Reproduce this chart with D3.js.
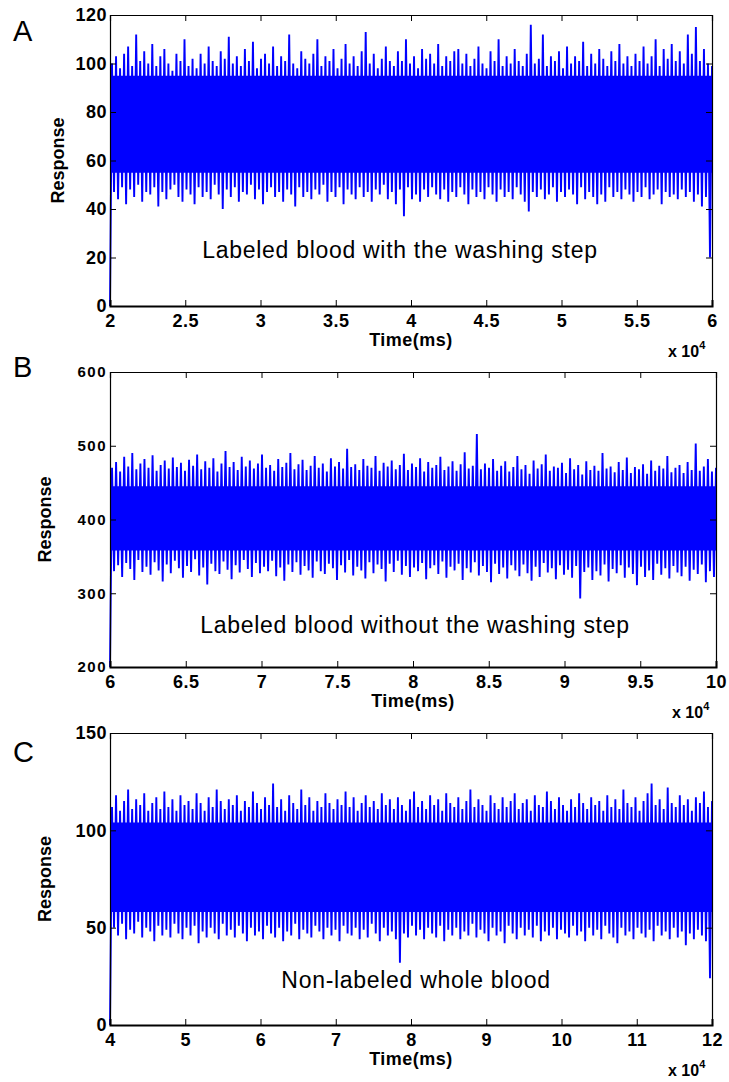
<!DOCTYPE html>
<html>
<head>
<meta charset="utf-8">
<style>
  body { margin: 0; background: #fff; }
  svg { display: block; font-family: Arial, "Liberation Sans", sans-serif; }
</style>
</head>
<body>
<svg width="729" height="1082"></svg>
<script src="https://d3js.org/d3.v7.min.js"></script>
<script>
// local peaks (hi) and dips (lo) of each trace, ~150 of each
var hiA = [100,103,98,104,107,99,112,101,105,100, 108,99,103,106,100,97,104,101,110,99,
  102,98,104,100,107,101,99,105,102,111, 100,103,99,106,101,109,98,102,104,100,
  107,99,103,101,112,100,98,105,102,100, 104,110,99,103,101,106,98,102,108,100,
  103,99,105,113,100,104,98,102,107,101, 99,105,101,110,100,103,98,106,102,104,
  100,108,99,103,101,105,106,100,104,99, 102,107,100,98,105,101,110,99,103,100,
  106,101,99,104,116,100,102,112,99,103, 101,105,98,107,100,103,101,109,99,104,
  100,106,102,99,105,101,108,100,103,99, 104,101,107,100,103,110,99,106,102,108,
  101,105,100,112,104,115,101,106,100,99];
var loA = [0,47,44,49,42,48,45,50,43,47, 46,49,41,47,44,48,50,45,43,48,
  46,42,49,45,47,44,50,46,40,48, 45,49,43,47,46,50,44,48,42,47,
  49,45,47,43,48,46,41,49,45,47, 44,48,46,50,43,47,45,49,42,48,
  46,44,49,45,47,43,48,46,50,44, 47,42,48,37,49,44,46,43,48,45,
  49,46,44,48,43,47,45,49,46,42, 48,45,47,44,49,46,43,48,45,47,
  44,49,46,43,39,47,45,48,44,46, 49,43,47,45,48,46,42,49,44,47,
  45,42,46,43,49,45,47,44,48,46, 43,47,45,49,44,46,48,42,47,45,
  46,44,48,45,47,43,46,41,45,20];
var hiB = [470,478,465,485,472,490,468,476,482,470, 487,466,474,480,469,484,471,477,466,481,
  473,488,468,479,470,483,465,476,493,471, 478,467,485,472,480,469,476,488,470,474,
  466,482,471,477,490,468,475,481,467,473, 486,470,476,465,483,472,478,469,496,471,
  475,467,482,473,470,486,466,477,472,480, 468,474,489,467,476,471,483,465,478,470,
  474,485,467,472,479,466,475,491,469,473, 516,468,476,470,482,466,473,479,465,471,
  486,468,474,462,480,469,475,488,466,472, 470,477,463,483,468,474,461,479,467,473,
  466,490,469,472,464,478,467,484,463,471, 468,475,462,480,466,473,469,486,464,470,
  474,463,478,467,503,466,472,482,465,470];
var loB = [200,330,338,322,341,333,318,345,329,336, 325,342,331,316,339,327,344,334,321,337,
  329,346,324,335,312,340,330,326,343,332, 319,338,328,345,333,322,341,327,336,330,
  344,323,335,317,339,329,342,325,337,331, 321,343,330,326,340,334,318,338,328,345,
  324,336,331,320,342,327,339,333,316,340, 329,344,325,337,322,335,330,341,319,334,
  338,326,343,321,336,331,340,318,334,328, 342,324,337,329,315,340,326,335,320,338,
  331,323,339,327,317,336,322,341,328,334, 319,338,325,332,321,337,293,329,335,318,
  330,324,339,316,333,327,338,321,335,326, 311,336,322,331,318,340,325,334,320,337,
  328,323,336,317,332,326,339,315,330,322];
var hiC = [112,118,110,115,121,111,116,113,119,110, 114,117,111,120,112,116,110,118,113,115,
  111,119,114,110,117,112,121,115,111,116, 113,118,110,115,112,120,114,111,117,113,
  124,112,116,110,118,114,111,121,113,117, 110,115,112,119,114,111,116,113,120,112,
  117,110,114,118,112,115,111,119,113,116, 111,117,113,110,116,120,112,115,111,118,
  113,116,110,119,114,112,117,111,115,121, 112,116,113,110,118,114,111,117,112,115,
  119,111,114,116,110,118,113,112,120,115, 111,117,113,110,116,112,119,114,111,117,
  113,115,110,118,112,116,111,121,114,112, 117,110,115,119,124,113,116,111,122,114,
  112,118,113,116,110,117,114,120,112,115];
var loC = [0,50,46,52,44,49,47,53,45,50, 48,43,51,46,49,45,52,47,44,50,
  46,51,42,48,45,50,47,44,52,46, 49,45,51,47,43,50,46,48,44,51,
  47,45,50,43,48,46,52,44,49,47, 45,51,48,44,50,46,49,43,51,47,
  46,50,44,49,45,52,47,43,50,46, 48,44,32,47,45,51,46,49,44,50,
  47,45,51,43,49,46,50,44,48,46, 52,45,49,47,43,50,46,48,42,51,
  47,44,50,46,49,45,51,43,48,46, 50,44,49,47,45,51,46,48,43,50,
  46,49,44,51,47,45,42,50,46,48, 44,50,47,45,49,43,51,46,48,44,
  50,45,48,41,47,44,49,46,43,24];

// solid core of each trace [low, high]
var coreA = [55, 95], coreB = [358, 445], coreC = [58, 104];

// axis ranges and ticks
var timeA = [20000, 60000], timeB = [60000, 100000], timeC = [40000, 120000];
var xTicksA = [2, 2.5, 3, 3.5, 4, 4.5, 5, 5.5, 6];
var xTicksB = [6, 6.5, 7, 7.5, 8, 8.5, 9, 9.5, 10];
var xTicksC = [4, 5, 6, 7, 8, 9, 10, 11, 12];
var yTicksA = [0, 20, 40, 60, 80, 100, 120];
var yTicksB = [200, 300, 400, 500, 600];
var yTicksC = [0, 50, 100, 150];

var panels = [
  {letter: 'A', hi: hiA, lo: loA, core: coreA, time: timeA, xt: xTicksA, yt: yTicksA,
   ydom: [0, 120], box: {l: 110, r: 712, t: 15, b: 306}, note: 'Labeled blood with the washing step',
   noteX: 400, noteY: 258, ylabX: 58, letterY: 41, yFont: 18, ySpace: 0.5},
  {letter: 'B', hi: hiB, lo: loB, core: coreB, time: timeB, xt: xTicksB, yt: yTicksB,
   ydom: [200, 600], box: {l: 110, r: 716, t: 372, b: 667}, note: 'Labeled blood without the washing step',
   noteX: 415, noteY: 633, ylabX: 45, letterY: 377, yFont: 15, ySpace: 1.5},
  {letter: 'C', hi: hiC, lo: loC, core: coreC, time: timeC, xt: xTicksC, yt: yTicksC,
   ydom: [0, 150], box: {l: 110, r: 712, t: 733, b: 1025}, note: 'Non-labeled whole blood',
   noteX: 416, noteY: 988, ylabX: 45, letterY: 762, yFont: 18, ySpace: 0.5}
];

var svg = d3.select('svg');

panels.forEach(function (p) {
  var b = p.box;
  var x = d3.scaleLinear().domain(p.time).range([b.l, b.r]);
  var y = d3.scaleLinear().domain(p.ydom).range([b.b, b.t]);
  var n = p.hi.length;
  var step = (p.time[1] - p.time[0]) / (n - 0.5);
  // trace alternates dip, peak, dip, peak ...
  var trace = [];
  p.lo.forEach(function (v, i) {
    trace.push({t: p.time[0] + i * step, v: v});
    trace.push({t: p.time[0] + (i + 0.5) * step, v: p.hi[i]});
  });
  var g = svg.append('g');

  // solid core band
  g.append('path')
    .datum(trace)
    .attr('fill', '#0000ff')
    .attr('d', d3.area()
      .x(function (d) { return x(d.t); })
      .y0(y(p.core[0]))
      .y1(y(p.core[1])));

  // the signal itself
  g.append('path')
    .datum(trace)
    .attr('fill', 'none')
    .attr('stroke', '#0000ff')
    .attr('stroke-width', 1.9)
    .attr('stroke-linejoin', 'miter')
    .attr('d', d3.line()
      .x(function (d) { return x(d.t); })
      .y(function (d) { return y(d.v); }));

  // axes: inside ticks, box on
  var fmt = function (v) { return v / 10000; };
  var xv = p.xt.map(function (v) { return v * 10000; });
  var ax = g.append('g');
  ax.append('g').attr('class', 'xb').attr('transform', 'translate(0,' + b.b + ')')
    .call(d3.axisBottom(x).tickValues(xv).tickFormat(fmt).tickSize(-6).tickPadding(8));
  ax.append('g').attr('transform', 'translate(0,' + b.t + ')')
    .call(d3.axisTop(x).tickValues(xv).tickFormat('').tickSize(-6));
  ax.append('g').attr('class', 'yl').attr('transform', 'translate(' + b.l + ',0)')
    .call(d3.axisLeft(y).tickValues(p.yt).tickSize(-6).tickPadding(3));
  ax.append('g').attr('transform', 'translate(' + b.r + ',0)')
    .call(d3.axisRight(y).tickValues(p.yt).tickFormat('').tickSize(-6));
  ax.selectAll('.domain').attr('stroke', '#000').attr('stroke-width', 1.2);
  ax.select('.xb .domain').attr('stroke-width', 2);
  ax.selectAll('.tick line').attr('stroke', '#000');
  ax.selectAll('.tick text')
    .attr('font-family', 'Arial, "Liberation Sans", sans-serif')
    .attr('font-weight', 'bold').attr('fill', '#000');
  ax.selectAll('.xb .tick text').attr('font-size', 18).attr('letter-spacing', 0.5);
  ax.selectAll('.yl .tick text').attr('font-size', p.yFont).attr('letter-spacing', p.ySpace);

  // labels
  var cy = (b.t + b.b) / 2;
  g.append('text').attr('x', p.ylabX).attr('y', cy)
    .attr('transform', 'rotate(-90,' + p.ylabX + ',' + cy + ')')
    .attr('text-anchor', 'middle').attr('dy', '0.35em')
    .attr('font-size', 18).attr('font-weight', 'bold').text('Response');
  g.append('text').attr('x', (b.l + b.r) / 2).attr('y', b.b + 40)
    .attr('text-anchor', 'middle').attr('letter-spacing', 0.5)
    .attr('font-size', 18).attr('font-weight', 'bold').text('Time(ms)');
  var mult = g.append('text').attr('x', b.r - 44).attr('y', b.b + 51)
    .attr('font-size', 16).attr('font-weight', 'bold');
  mult.append('tspan').text('x 10');
  mult.append('tspan').attr('dy', -8).attr('font-size', 11).text('4');

  g.append('text').attr('x', p.noteX).attr('y', p.noteY)
    .attr('text-anchor', 'middle').attr('font-size', 23).attr('letter-spacing', 0.7)
    .text(p.note);
  g.append('text').attr('x', 13).attr('y', p.letterY)
    .attr('font-size', 29).text(p.letter);
});
</script>
</body>
</html>
